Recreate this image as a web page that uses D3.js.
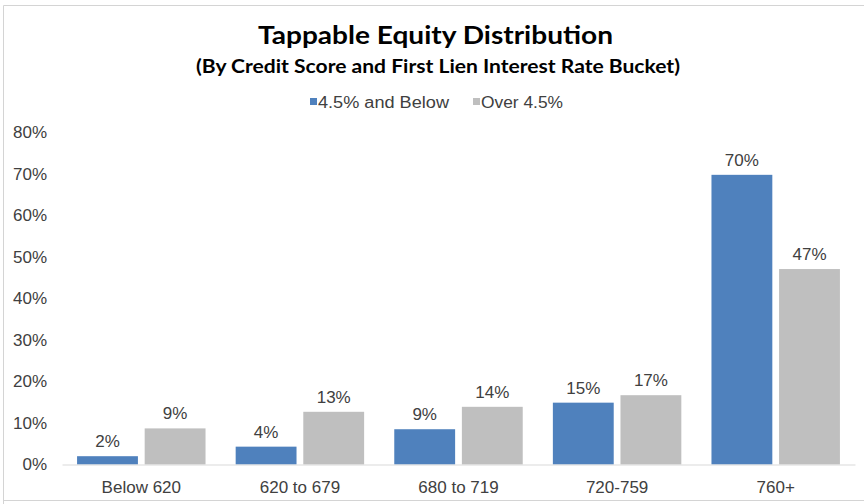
<!DOCTYPE html>
<html>
<head>
<meta charset="utf-8">
<script src="https://cdn.jsdelivr.net/npm/d3@7"></script>
<style>
  body { margin: 0; background: #fff; }
  svg { display: block; }
</style>
</head>
<body>
<svg width="864" height="504"></svg>
<script>
// chart data
var categories = ["Below 620", "620 to 679", "680 to 719", "720-759", "760+"];
var seriesNames = ["4.5% and Below", "Over 4.5%"];
var lowRate = [2.0, 4.3, 8.5, 14.9, 69.8];
var highRate = [8.7, 12.7, 13.9, 16.7, 47.1];
var yTicks = [0, 10, 20, 30, 40, 50, 60, 70, 80];
var colors = ["#4f81bd", "#bfbfbf"];

var svg = d3.select("svg"),
    margin = {top: 132.5, right: 9, bottom: 39.5, left: 62},
    width = 864 - margin.left - margin.right,
    height = 504 - margin.top - margin.bottom;

// frame of the pasted chart
svg.append("path")
    .attr("d", "M3.5,504 L3.5,5.5 L864,5.5 M3.5,500.5 L864,500.5")
    .attr("fill", "none")
    .attr("stroke", "#d4d4d4")
    .attr("stroke-width", 1);

// titles are a bit wide in the original, so stretch them to its width
svg.append("text")
    .attr("x", 258).attr("y", 43.5)
    .attr("textLength", 355)
    .attr("lengthAdjust", "spacingAndGlyphs")
    .style("font", "bold 25px Lato, 'Open Sans', sans-serif")
    .attr("fill", "#000")
    .text("Tappable Equity Distribution");

svg.append("text")
    .attr("x", 196).attr("y", 72.5)
    .attr("textLength", 484)
    .attr("lengthAdjust", "spacingAndGlyphs")
    .style("font", "bold 18px Lato, 'Open Sans', sans-serif")
    .attr("fill", "#000")
    .text("(By Credit Score and First Lien Interest Rate Bucket)");

var g = svg.append("g").attr("transform", "translate(" + margin.left + "," + margin.top + ")");

var x0 = d3.scaleBand().domain(categories).range([0, width]).padding(0);
var x1 = d3.scaleBand().domain(seriesNames)
    .range([x0.bandwidth() * 0.095, x0.bandwidth() * 0.905])
    .paddingInner(0.1);
var y = d3.scaleLinear().domain([0, 80]).range([height, 0]);

var rows = categories.map(function(c, i) {
  return {cat: c, values: [lowRate[i], highRate[i]]};
});

// y axis labels only, no line
var yAxis = g.append("g")
    .call(d3.axisLeft(y).tickValues(yTicks).tickSize(0).tickPadding(15)
      .tickFormat(function(d) { return d + "%"; }));
yAxis.select(".domain").remove();
yAxis.selectAll("text")
    .style("font", "17px 'Liberation Sans', Arial, sans-serif")
    .attr("fill", "#404040");

var group = g.selectAll(".grp")
  .data(rows)
  .enter().append("g")
    .attr("class", "grp")
    .attr("transform", function(d) { return "translate(" + x0(d.cat) + ",0)"; });

group.selectAll("rect")
  .data(function(d) { return d.values.map(function(v, i) { return {name: seriesNames[i], value: v, i: i}; }); })
  .enter().append("rect")
    .attr("x", function(d) { return x1(d.name); })
    .attr("y", function(d) { return y(d.value); })
    .attr("width", x1.bandwidth())
    .attr("height", function(d) { return height - y(d.value); })
    .attr("fill", function(d) { return colors[d.i]; });

group.selectAll(".lbl")
  .data(function(d) { return d.values.map(function(v, i) { return {name: seriesNames[i], value: v}; }); })
  .enter().append("text")
    .attr("class", "lbl")
    .attr("x", function(d) { return x1(d.name) + x1.bandwidth() / 2; })
    .attr("y", function(d) { return y(d.value) - 9; })
    .attr("text-anchor", "middle")
    .style("font", "17px 'Liberation Sans', Arial, sans-serif")
    .attr("fill", "#404040")
    .text(function(d) { return Math.round(d.value) + "%"; });

// x axis
var xAxis = g.append("g")
    .attr("transform", "translate(0," + height + ")")
    .call(d3.axisBottom(x0).tickSize(0).tickPadding(16));
xAxis.select(".domain").attr("stroke", "#d9d9d9").attr("stroke-width", 1.2);
xAxis.selectAll("text")
    .style("font", "17px 'Liberation Sans', Arial, sans-serif")
    .attr("fill", "#404040");

// legend
var legend = svg.append("g").attr("transform", "translate(0,108)");
var legendX = [310, 473];
var legendW = [131, 82];
seriesNames.forEach(function(name, i) {
  legend.append("rect")
      .attr("x", legendX[i]).attr("y", -10)
      .attr("width", 7).attr("height", 7)
      .attr("fill", colors[i]);
  legend.append("text")
      .attr("x", legendX[i] + 8).attr("y", 0)
      .attr("textLength", legendW[i])
      .attr("lengthAdjust", "spacingAndGlyphs")
      .style("font", "16px 'Liberation Sans', Arial, sans-serif")
      .attr("fill", "#404040")
      .text(name);
});
</script>
</body>
</html>
